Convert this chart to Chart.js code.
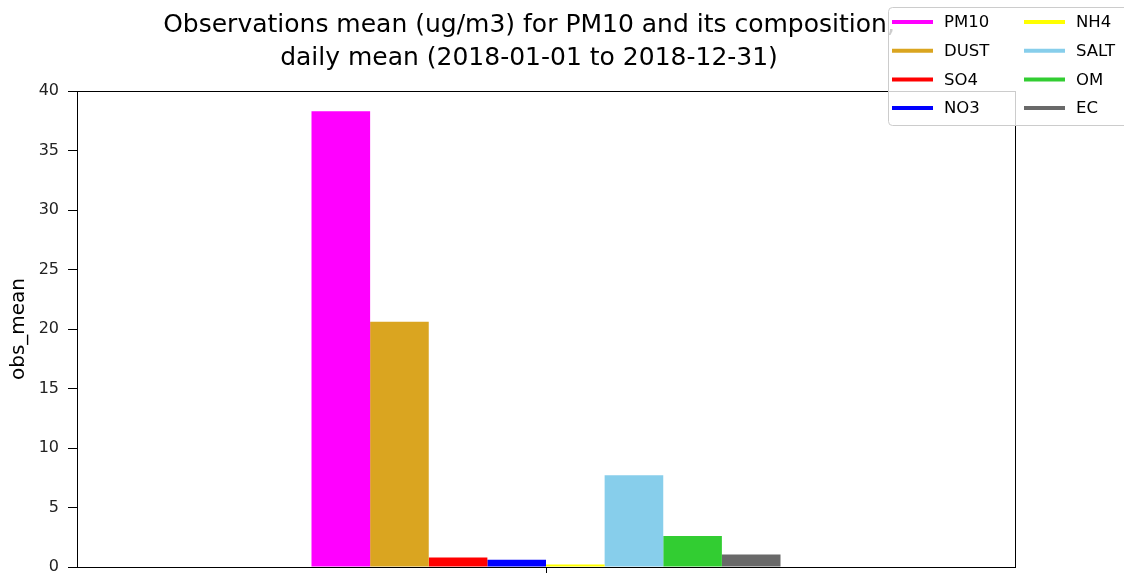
<!DOCTYPE html>
<html>
<head>
<meta charset="utf-8">
<script src="https://cdn.jsdelivr.net/npm/chart.js@4.4.1/dist/chart.umd.min.js"></script>
<style>
  body { margin: 0; background: #fff; }
  #wrap { width: 1124px; height: 574px; position: relative; }
</style>
</head>
<body>
<div id="wrap"><canvas id="chart"></canvas></div>
<script>
const categories = [""];
const species = ["PM10", "DUST", "SO4", "NO3", "NH4", "SALT", "OM", "EC"];
const obsMean = [38.3, 20.6, 0.8, 0.6, 0.2, 7.7, 2.6, 1.05];
const colors = ["#ff00ff", "#daa520", "#ff0000", "#0000ff", "#ffff00", "#87ceeb", "#32cd32", "#696969"];
const yTicks = [0, 5, 10, 15, 20, 25, 30, 35, 40];
const titleLines = ["Observations mean (ug/m3) for PM10 and its composition,", "daily mean (2018-01-01 to 2018-12-31)"];

const FONT = "'DejaVu Sans', sans-serif";

// frame, title and legend in matplotlib style
const mplDecor = {
  id: "mplDecor",
  afterDraw(chart) {
    const ctx = chart.ctx;
    const a = chart.chartArea;
    ctx.save();
    ctx.strokeStyle = "#000";
    ctx.lineWidth = 1;
    ctx.strokeRect(a.left + 0.5, a.top + 0.5, a.right - a.left, a.bottom - a.top);

    // title
    ctx.fillStyle = "#000";
    ctx.font = "25px " + FONT;
    ctx.textAlign = "center";
    ctx.textBaseline = "middle";
    ctx.fillText(titleLines[0], 529, 25);
    ctx.fillText(titleLines[1], 529, 58);

    // legend (2 columns)
    const bx = 888.5, by = 7.5, bw = 260, bh = 118;
    ctx.beginPath();
    ctx.roundRect(bx, by, bw, bh, 4);
    ctx.fillStyle = "rgba(255,255,255,0.8)";
    ctx.fill();
    ctx.strokeStyle = "#cccccc";
    ctx.stroke();
    ctx.font = "16.5px " + FONT;
    ctx.textAlign = "left";
    chart.data.datasets.forEach((ds, i) => {
      const col = Math.floor(i / 4), row = i % 4;
      const y = 22 + row * 28.7;
      const x0 = col === 0 ? 892 : 1024;
      ctx.strokeStyle = ds.backgroundColor;
      ctx.lineWidth = 4;
      ctx.beginPath();
      ctx.moveTo(x0, y);
      ctx.lineTo(x0 + 41, y);
      ctx.stroke();
      ctx.fillStyle = "#000";
      ctx.fillText(ds.label, x0 + 52, y + 1);
    });
    ctx.restore();
  }
};

new Chart(document.getElementById("chart"), {
  type: "bar",
  data: {
    labels: categories,
    datasets: species.map((s, i) => ({
      label: s,
      data: [obsMean[i]],
      backgroundColor: colors[i],
      borderWidth: 0,
    })),
  },
  options: {
    responsive: true,
    maintainAspectRatio: false,
    animation: false,
    layout: { padding: { top: 91, right: 109, bottom: 0, left: 0 } },
    datasets: { bar: { categoryPercentage: 0.5, barPercentage: 1.0 } },
    plugins: {
      legend: { display: false },
      title: { display: false },
      tooltip: { enabled: false },
    },
    scales: {
      x: {
        offset: true,
        grid: { offset: false, drawOnChartArea: false, drawTicks: true, tickLength: 6, color: "#000" },
        border: { display: true, color: "#000" },
        ticks: { display: false },
        afterFit: (s) => { s.height = 7; s.paddingLeft = 0; s.paddingRight = 0; },
      },
      y: {
        min: 0,
        max: 40,
        afterBuildTicks: (s) => { s.ticks = yTicks.map(v => ({ value: v })); },
        grid: { drawOnChartArea: false, drawTicks: true, tickLength: 9, color: "#000" },
        border: { display: true, color: "#000" },
        ticks: { color: "#222", padding: 9, font: { family: FONT, size: 16 } },
        title: { display: true, text: "obs_mean", color: "#000", padding: { top: 7, bottom: 4 }, font: { family: FONT, size: 20 } },
        afterFit: (s) => { s.width = 77; s.paddingTop = 0; s.paddingBottom = 0; },
      },
    },
  },
  plugins: [mplDecor],
});
</script>
</body>
</html>
